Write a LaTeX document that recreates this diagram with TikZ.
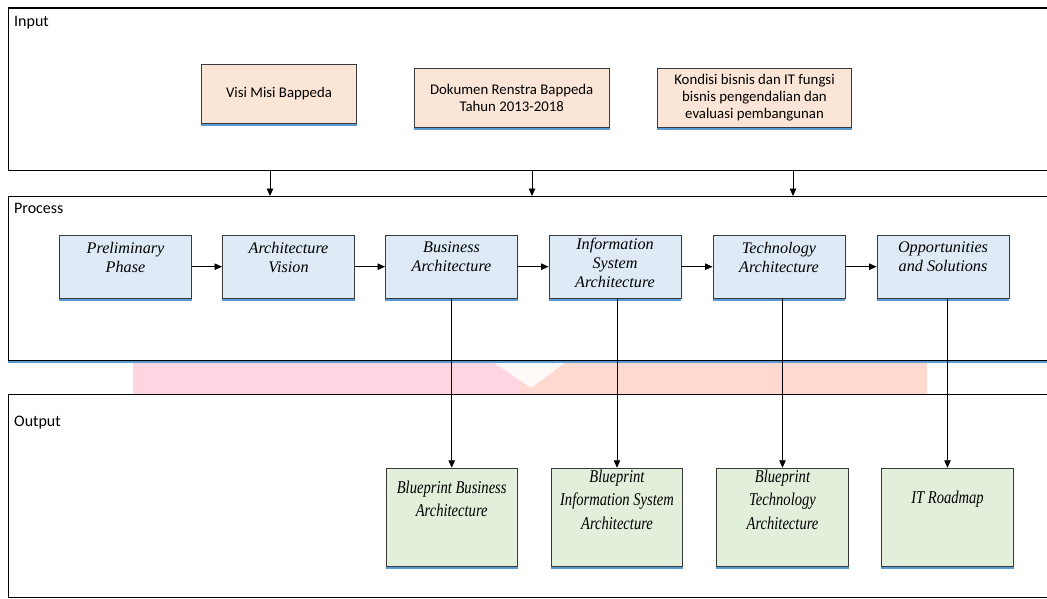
\documentclass[tikz,border=0pt]{standalone}
\usepackage{fontspec}
\setmainfont{Liberation Serif}
\newfontfamily\calibri{Carlito}
\usetikzlibrary{arrows.meta}
\definecolor{inFill}{HTML}{FBE5D6}
\definecolor{prFill}{HTML}{DEEBF7}
\definecolor{outFill}{HTML}{E2EFDA}
\definecolor{shBlue}{HTML}{5B9BD5}
\definecolor{bdGray}{HTML}{3A3A3A}
\definecolor{wmPink}{HTML}{FFD5E2}
\definecolor{wmSalmon}{HTML}{FFD9D0}
\newcommand{\cnd}[1]{\scalebox{0.81}[1]{#1}}
\tikzset{
 frame/.style={draw=black, line width=1.2pt, anchor=north west, inner sep=0pt},
 ftitle/.style={font=\calibri\fontsize{16}{19}\selectfont, anchor=west, inner sep=0pt},
 inbox/.style={draw=bdGray, line width=0.9pt, fill=inFill, align=center, inner sep=0pt, font=\calibri\fontsize{14.8}{17}\selectfont},
 prbox/.style={draw=bdGray, line width=0.9pt, fill=prFill, minimum width=132pt, minimum height=63.3pt, inner sep=0pt},
 outbox/.style={draw=bdGray, line width=0.9pt, fill=outFill, minimum width=131.4pt, minimum height=98.4pt, inner sep=0pt},
 ptext/.style={font=\itshape\fontsize{16.2}{19}\selectfont, align=center, inner sep=0pt},
 otext/.style={font=\itshape\fontsize{18}{23.5}\selectfont, align=center, inner sep=0pt},
 arr/.style={-{Triangle[length=7.5pt,width=6.5pt]}, line width=0.8pt},
 shline/.style={draw=shBlue, line width=2pt},
}
\begin{document}
\begin{tikzpicture}[x=1pt,y=-1pt]
\clip (0,0) rectangle (1047,599);
% watermark band
\fill[wmPink] (133,361) rectangle (519,394);
\fill[wmSalmon] (519,361) rectangle (927,394);
\fill[white, opacity=0.85] (493,362) -- (566,362) -- (531,388) -- cycle;
% frames
\node[frame, minimum width=1060pt, minimum height=162.5pt] (inF) at (7.5,7.5) {};
\node[frame, minimum width=1060pt, minimum height=163.5pt] (prF) at (8,196) {};
\node[frame, minimum width=1060pt, minimum height=203pt] (outF) at (8,394) {};
\draw[shline] ([yshift=-1.3pt]prF.south west) -- ([yshift=-1.3pt]prF.south east);
\draw[shline] ([yshift=-1.3pt]outF.south west) -- ([yshift=-1.3pt]outF.south east);
\node[ftitle] (inT) at (14,22.7) {Input};
\node[ftitle] (prT) at (14,208.3) {Process};
\node[ftitle] (outT) at (14,423) {Output};
% input boxes
\node[inbox, minimum width=154.5pt, minimum height=58.6pt] (visi) at (279,94) {Visi Misi Bappeda};
\node[inbox, minimum width=194.7pt, minimum height=59pt] (doc) at (511.7,97.8) {Dokumen Renstra Bappeda\\Tahun 2013-2018};
\node[inbox, minimum width=194.4pt, minimum height=59pt] (kond) at (754.5,97.7) {Kondisi bisnis dan IT fungsi\\bisnis pengendalian dan\\evaluasi pembangunan};
% process boxes
\node[prbox, label={[ptext,yshift=9.5pt]center:{Preliminary\\Phase}}] (p1) at (125.5,266.7) {};
\node[prbox, label={[ptext,yshift=9.5pt]center:{Architecture\\Vision}}] (p2) at (288.5,266.7) {};
\node[prbox, label={[ptext,yshift=9.5pt]center:{Business\\Architecture}}] (p3) at (451.5,266.7) {};
\node[prbox, label={[ptext,yshift=4pt]center:{Information\\System\\Architecture}}] (p4) at (615,266.7) {};
\node[prbox, label={[ptext,yshift=9.5pt]center:{Technology\\Architecture}}] (p5) at (779,266.7) {};
\node[prbox, label={[ptext,yshift=9.5pt]center:{Opportunities\\and Solutions}}] (p6) at (943,266.7) {};
% output boxes
\node[outbox, label={[otext,yshift=18.5pt]center:{\cnd{Blueprint Business}\\\cnd{Architecture}}}] (o1) at (451.7,517.4) {};
\node[outbox, label={[otext,yshift=18pt]center:{\cnd{Blueprint}\\\cnd{Information System}\\\cnd{Architecture}}}] (o2) at (617,517.4) {};
\node[outbox, label={[otext,yshift=18pt]center:{\cnd{Blueprint}\\\cnd{Technology}\\\cnd{Architecture}}}] (o3) at (782.5,517.4) {};
\node[outbox, label={[otext,yshift=18.5pt]center:{\cnd{IT Roadmap}}}] (o4) at (947.5,517.4) {};
% blue shadow lines under boxes
\foreach \n in {visi,doc,kond,p1,p2,p3,p4,p5,p6,o1,o2,o3,o4}{
  \draw[shline] ([yshift=-1.3pt]\n.south west) -- ([yshift=-1.3pt]\n.south east);
}
% input to process arrows
\coordinate (c1) at (270,0);
\coordinate (c2) at (532,0);
\coordinate (c3) at (793,0);
\foreach \c in {c1,c2,c3}{
  \draw[arr] (\c |- inF.south) -- (\c |- prF.north);
}
% process chain
\draw[arr] (p1) -- (p2);
\draw[arr] (p2) -- (p3);
\draw[arr] (p3) -- (p4);
\draw[arr] (p4) -- (p5);
\draw[arr] (p5) -- (p6);
% process to output
\draw[arr] (p3.south -| o1.north) -- (o1.north);
\draw[arr] (p4.south -| o2.north) -- (o2.north);
\draw[arr] (p5.south -| o3.north) -- (o3.north);
\draw[arr] (p6.south -| o4.north) -- (o4.north);
\end{tikzpicture}
\end{document}
